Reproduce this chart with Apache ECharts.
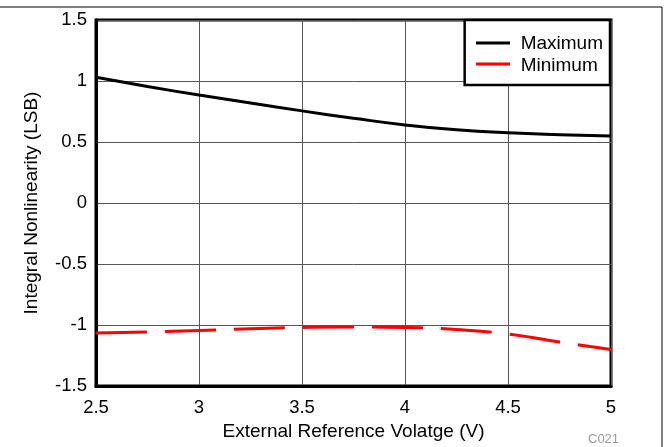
<!DOCTYPE html>
<html><head><meta charset="utf-8">
<script src="https://cdn.jsdelivr.net/npm/echarts@6/dist/echarts.min.js"></script>
<style>html,body{margin:0;padding:0;background:#fff}#c{width:665px;height:447px}</style>
</head><body><div id="c"></div>
<script>
var xValues = [2.5, 2.75, 3, 3.25, 3.5, 3.75, 4, 4.25, 4.5, 4.75, 5];
var maxValues = [1.03, 0.955, 0.885, 0.82, 0.755, 0.695, 0.64, 0.60, 0.575, 0.56, 0.55];
var minValues = [-1.066, -1.058, -1.045, -1.03, -1.02, -1.016, -1.02, -1.037, -1.074, -1.14, -1.2];
var seriesNames = ['Maximum', 'Minimum'];
var seriesColors = ['#000000', '#ff0000'];

var chart = echarts.init(document.getElementById('c'));
var font = 'Liberation Sans, Arial, sans-serif';
function pairs(v){ return xValues.map(function(x,i){ return [x, v[i]]; }); }
chart.setOption({
  animation: false,
  textStyle: {fontFamily: font},
  grid: {left: 96, right: 54, top: 20, bottom: 61, show: true, borderColor: '#000', borderWidth: 3, backgroundColor: 'transparent'},
  legend: {
    right: 55, top: 20, orient: 'vertical', backgroundColor: '#fff', borderColor: '#000', borderWidth: 2.5,
    padding: [14, 7, 10, 17], itemGap: 3, itemWidth: 34, itemHeight: 12,
    icon: 'none',
    textStyle: {fontSize: 19, color: '#000', fontFamily: font},
    data: seriesNames
  },
  xAxis: {
    type: 'value', min: 2.5, max: 5, interval: 0.5,
    name: 'External Reference Volatge (V)', nameLocation: 'middle', nameGap: 36,
    nameTextStyle: {fontSize: 19, color: '#000', fontFamily: font},
    axisLine: {show: true, onZero: false, lineStyle: {color: '#000', width: 3}},
    axisTick: {show: false},
    axisLabel: {fontSize: 18.5, color: '#000', margin: 12, fontFamily: font},
    splitLine: {show: true, lineStyle: {color: '#555', width: 1}}
  },
  yAxis: {
    type: 'value', min: -1.5, max: 1.5, interval: 0.5,
    name: 'Integral Nonlinearity (LSB)', nameLocation: 'middle', nameGap: 55,
    nameTextStyle: {fontSize: 19, color: '#000', fontFamily: font},
    axisLine: {show: true, onZero: false, lineStyle: {color: '#000', width: 3}},
    axisTick: {show: false},
    axisLabel: {fontSize: 18.5, color: '#000', margin: 9, fontFamily: font},
    splitLine: {show: true, lineStyle: {color: '#555', width: 1}}
  },
  series: [
    {name: seriesNames[0], type: 'line', smooth: true, showSymbol: false, data: pairs(maxValues),
     lineStyle: {color: seriesColors[0], width: 3}, itemStyle: {color: seriesColors[0]}},
    {name: seriesNames[1], type: 'line', smooth: true, showSymbol: false, data: pairs(minValues),
     lineStyle: {color: seriesColors[1], width: 3, type: [51, 18]}, itemStyle: {color: seriesColors[1]}}
  ],
  graphic: [
    {type: 'line', shape: {x1: 0, y1: 7, x2: 662, y2: 7}, style: {stroke: '#000', lineWidth: 1}},
    {type: 'line', shape: {x1: 662, y1: 7, x2: 662, y2: 447}, style: {stroke: '#000', lineWidth: 1}},
    {type: 'line', z: 100, shape: {x1: 476, y1: 43, x2: 510, y2: 43}, style: {stroke: seriesColors[0], lineWidth: 3}},
    {type: 'line', z: 100, shape: {x1: 476, y1: 64, x2: 510, y2: 64}, style: {stroke: seriesColors[1], lineWidth: 3}},
    {type: 'text', left: 588, top: 433, style: {text: 'C021', fill: '#999', fontSize: 13, fontFamily: font}}
  ]
});
</script></body></html>
